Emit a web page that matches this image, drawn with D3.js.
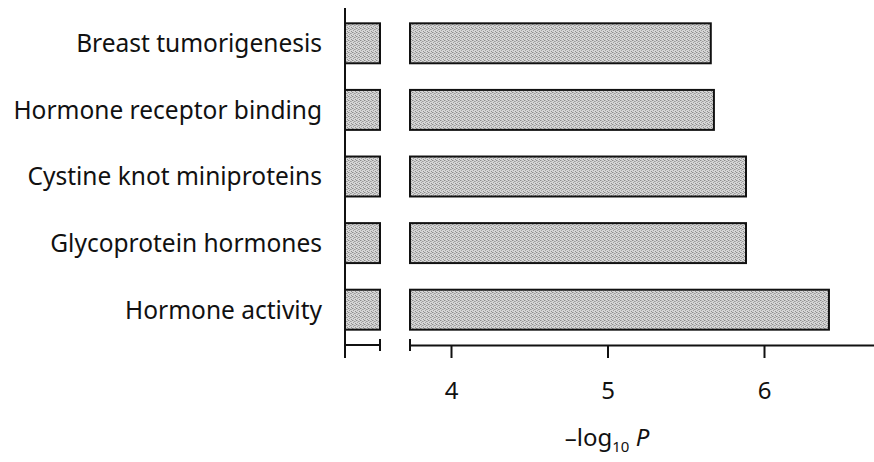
<!DOCTYPE html>
<html>
<head>
<meta charset="utf-8">
<script src="https://cdn.jsdelivr.net/npm/d3@7"></script>
<style>
  body { margin: 0; background: #fff; }
  text { font-family: "Noto Sans", "Open Sans", sans-serif; fill: #111; }
</style>
</head>
<body>
<div id="chart"></div>
<script>
// data
var terms = ["Breast tumorigenesis", "Hormone receptor binding", "Cystine knot miniproteins",
             "Glycoprotein hormones", "Hormone activity"];
var logP = [5.66, 5.68, 5.885, 5.885, 6.415];
var tickValues = [4, 5, 6];

var svgWidth = 874, svgHeight = 462;

var svg = d3.select("#chart").append("svg")
    .attr("width", svgWidth)
    .attr("height", svgHeight);

// fine dotted fill like the original print
var defs = svg.append("defs");
var pat = defs.append("pattern")
    .attr("id", "dots")
    .attr("width", 4).attr("height", 4)
    .attr("patternUnits", "userSpaceOnUse");
pat.append("rect").attr("width", 4).attr("height", 4).attr("fill", "#d6d6d6");
pat.append("rect").attr("x", 0).attr("y", 0).attr("width", 1).attr("height", 1).attr("fill", "#8c8c8c");
pat.append("rect").attr("x", 2).attr("y", 1).attr("width", 1).attr("height", 1).attr("fill", "#9c9c9c");
pat.append("rect").attr("x", 1).attr("y", 2).attr("width", 1).attr("height", 1).attr("fill", "#a0a0a0");
pat.append("rect").attr("x", 3).attr("y", 3).attr("width", 1).attr("height", 1).attr("fill", "#8f8f8f");
pat.append("rect").attr("x", 3).attr("y", 1).attr("width", 1).attr("height", 1).attr("fill", "#b0b0b0");
pat.append("rect").attr("x", 1).attr("y", 0).attr("width", 1).attr("height", 1).attr("fill", "#b4b4b4");

// layout
var axisX = 345, axisY = 345;
var stubEnd = 380, breakStart = 410;

var x = d3.scaleLinear().domain([4, 6]).range([451, 764]);
var xMin = x.invert(breakStart);

var y = d3.scaleBand()
    .domain(terms)
    .range([10, 343])
    .paddingInner(0.4)
    .paddingOuter(0.2);

var g = svg.append("g");

// left stub bars (broken part)
g.selectAll(".stub")
    .data(terms)
    .enter()
    .append("rect")
    .attr("x", axisX)
    .attr("y", d => y(d))
    .attr("width", stubEnd - axisX)
    .attr("height", y.bandwidth())
    .attr("fill", "url(#dots)")
    .attr("stroke", "#111")
    .attr("stroke-width", 2);

// main bars
g.selectAll(".bar")
    .data(terms)
    .enter()
    .append("rect")
    .attr("x", breakStart)
    .attr("y", d => y(d))
    .attr("width", (d, i) => x(logP[i]) - breakStart)
    .attr("height", y.bandwidth())
    .attr("fill", "url(#dots)")
    .attr("stroke", "#111")
    .attr("stroke-width", 2);

// category labels
g.selectAll(".lab")
    .data(terms)
    .enter()
    .append("text")
    .attr("x", 322)
    .attr("y", d => y(d) + y.bandwidth() / 2)
    .attr("dy", "0.36em")
    .attr("text-anchor", "end")
    .attr("font-size", "24.5px")
    .text(d => d);

// y axis line
g.append("line")
    .attr("x1", axisX).attr("x2", axisX)
    .attr("y1", 8).attr("y2", 358)
    .attr("stroke", "#111").attr("stroke-width", 2);

// broken x axis: short left segment
g.append("line")
    .attr("x1", axisX).attr("x2", stubEnd)
    .attr("y1", axisY).attr("y2", axisY)
    .attr("stroke", "#111").attr("stroke-width", 2);
g.append("line")
    .attr("x1", stubEnd).attr("x2", stubEnd)
    .attr("y1", axisY - 6).attr("y2", axisY + 6)
    .attr("stroke", "#111").attr("stroke-width", 2);

// right segment with d3 axis
var xAxis = d3.axisBottom(x.copy().domain([xMin, x.invert(874)]).range([breakStart, 874]))
    .tickValues(tickValues)
    .tickFormat(d3.format("d"))
    .tickSize(13)
    .tickPadding(24)
    .tickSizeOuter(0);

var ax = g.append("g")
    .attr("transform", `translate(0, ${axisY})`)
    .call(xAxis);
ax.select(".domain").attr("stroke", "#111").attr("stroke-width", 2);
ax.selectAll(".tick line").attr("stroke", "#111").attr("stroke-width", 2);
ax.selectAll(".tick text")
    .attr("font-family", "Noto Sans, Open Sans, sans-serif")
    .attr("font-size", "24px")
    .attr("fill", "#111");

g.append("line")
    .attr("x1", breakStart).attr("x2", breakStart)
    .attr("y1", axisY - 6).attr("y2", axisY + 6)
    .attr("stroke", "#111").attr("stroke-width", 2);

// axis title
var title = g.append("text")
    .attr("x", 607)
    .attr("y", 446)
    .attr("text-anchor", "middle")
    .attr("font-size", "24px");
title.append("tspan").text("\u2013log");
title.append("tspan").attr("font-size", "15px").attr("dy", "6").text("10");
title.append("tspan").attr("dy", "-6").text(" ");
title.append("tspan").attr("font-style", "italic").text("P");
</script>
</body>
</html>
